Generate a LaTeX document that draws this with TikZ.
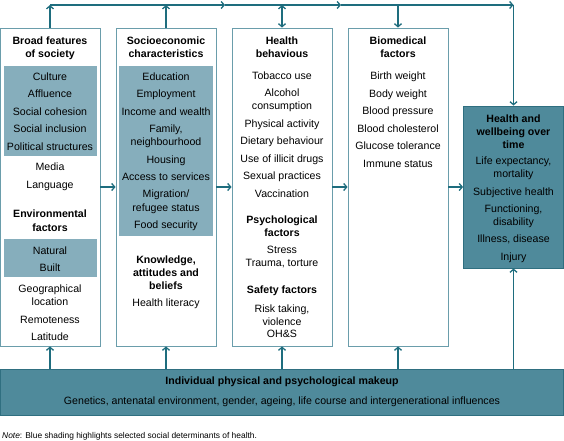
\documentclass[tikz,border=0pt]{standalone}
\usepackage{fontspec}
\setmainfont{Liberation Sans}
\usetikzlibrary{arrows.meta}
\definecolor{shadeL}{HTML}{86AEBC}
\definecolor{shadeD}{HTML}{4F8A9B}
\definecolor{arrC}{HTML}{1E6D7E}
\definecolor{boxC}{HTML}{6A9DAB}
\definecolor{darkEdge}{HTML}{2F6F80}
\begin{document}
\begin{tikzpicture}[x=1pt,y=-1pt,
  txt/.style={anchor=base, inner sep=0pt, font=\fontsize{10.6}{12}\selectfont},
  bld/.style={anchor=base, inner sep=0pt, font=\fontsize{10.6}{12}\selectfont\bfseries},
  colbox/.style={draw=boxC, line width=0.9pt, fill=white, inner sep=0pt, minimum width=100pt, minimum height=318pt},
  shd/.style={fill=shadeL, draw=none, inner sep=0pt},
  dark/.style={fill=shadeD, draw=darkEdge, line width=0.9pt, inner sep=0pt},
  arr/.style={draw=arrC, line width=1.3pt, -{Straight Barb[length=3pt,width=7pt]}},
  darr/.style={draw=arrC, line width=1.3pt, {Straight Barb[length=3pt,width=7pt]}-{Straight Barb[length=3pt,width=7pt]}}]
\useasboundingbox (0,0) rectangle (564,440);
% boxes
\node[colbox] (b1) at (50,187) {};
\node[colbox] (b2) at (166,187) {};
\node[colbox] (b3) at (282,187) {};
\node[colbox] (b4) at (398,187) {};
\node[dark, minimum width=100pt, minimum height=162pt] (hb) at (513.5,187) {};
\node[dark, minimum width=563pt, minimum height=46pt] (bar) at (282,392) {};
% shading
\node[shd, minimum width=93pt, minimum height=90pt] (s1) at (50.5,111) {};
\node[shd, minimum width=93pt, minimum height=38pt] (s2) at (50.5,258) {};
\node[shd, minimum width=94pt, minimum height=170pt] (s3) at (166,151) {};
% top line coordinates
\coordinate (tl) at (50,5);
\coordinate (m1) at (225,5);
\coordinate (m2) at (341,5);
\coordinate (tr) at (513.5,5);
\draw[arr] (b1.north) -- (b1.north |- tl);
\draw[arr] (b2.north) -- (b2.north |- tl);
\draw[darr] (b3.north) -- (b3.north |- tl);
\draw[arr] (b4.north |- tl) -- (b4.north);
\draw[arr] (tl) -- (m1);
\draw[arr] (m1) -- (m2);
\draw[arr] (m2) -- (tr);
\draw[arr] (tr) -- (hb.north);
% horizontal arrows
\draw[arr] (b1.east) -- (b2.west);
\draw[arr] (b2.east) -- (b3.west);
\draw[arr] (b3.east) -- (b4.west);
\draw[arr] (b4.east) -- (hb.west);
% up arrows from bar
\draw[arr] (bar.north -| b1) -- (b1.south);
\draw[arr] (bar.north -| b2) -- (b2.south);
\draw[arr] (bar.north -| b3) -- (b3.south);
\draw[arr] (bar.north -| b4) -- (b4.south);
\draw[arr] (bar.north -| hb) -- (hb.south);
% column 1
\foreach \t/\y [count=\i] in {Broad features/40, of society/53, Environmental/213, factors/227}
  \node[bld] (h1\i) at (50,\y+4) {\t};
\foreach \t/\y [count=\i] in {Culture/76, Affluence/93, Social cohesion/111, Social inclusion/128, Political structures/146, Media/166, Language/184, Natural/250, Built/267, Geographical/288, location/301, Remoteness/319, Latitude/336}
  \node[txt] (t1\i) at (50,\y+4) {\t};
% column 2
\foreach \t/\y [count=\i] in {Socioeconomic/40, characteristics/53, {Knowledge,}/259, attitudes and/272, beliefs/285}
  \node[bld] (h2\i) at (166,\y+4) {\t};
\foreach \t/\y [count=\i] in {Education/76, Employment/93, Income and wealth/111, {Family,}/128, neighbourhood/141, Housing/159, Access to services/176, Migration\slash/193, refugee status/207, Food security/224, Health literacy/302}
  \node[txt] (t2\i) at (166,\y+4) {\t};
% column 3
\foreach \t/\y [count=\i] in {Health/40, behavious/53, Psychological/219, factors/232, Safety factors/289}
  \node[bld] (h3\i) at (282,\y+4) {\t};
\foreach \t/\y [count=\i] in {Tobacco use/75, Alcohol/92, consumption/105, Physical activity/123, Dietary behaviour/140, Use of illicit drugs/158, Sexual practices/175, Vaccination/193, Stress/249, {Trauma, torture}/262, {Risk taking,}/308, violence/321, OH\&S/333}
  \node[txt] (t3\i) at (282,\y+4) {\t};
% column 4
\foreach \t/\y [count=\i] in {Biomedical/40, factors/53}
  \node[bld] (h4\i) at (398,\y+4) {\t};
\foreach \t/\y [count=\i] in {Birth weight/75, Body weight/93, Blood pressure/110, Blood cholesterol/128, Glucose tolerance/145, Immune status/163}
  \node[txt] (t4\i) at (398,\y+4) {\t};
% health box
\foreach \t/\y [count=\i] in {Health and/118, wellbeing over/131, time/144}
  \node[bld] (h5\i) at (513.5,\y+4) {\t};
\foreach \t/\y [count=\i] in {{Life expectancy,}/160, mortality/173, Subjective health/191, {Functioning,}/208, disability/221, {Illness, disease}/238, Injury/256}
  \node[txt] (t5\i) at (513.5,\y+4) {\t};
% bar
\node[bld] (barh) at (282,384) {Individual physical and psychological makeup};
\node[txt] (bart) at (282,404) {Genetics, antenatal environment, gender, ageing, life course and intergenerational influences};
% note
\node[anchor=base west, inner sep=0pt, font=\fontsize{8.4}{10}\selectfont] (note) at (2,438) {\textit{Note}: Blue shading highlights selected social determinants of health.};
\end{tikzpicture}
\end{document}
